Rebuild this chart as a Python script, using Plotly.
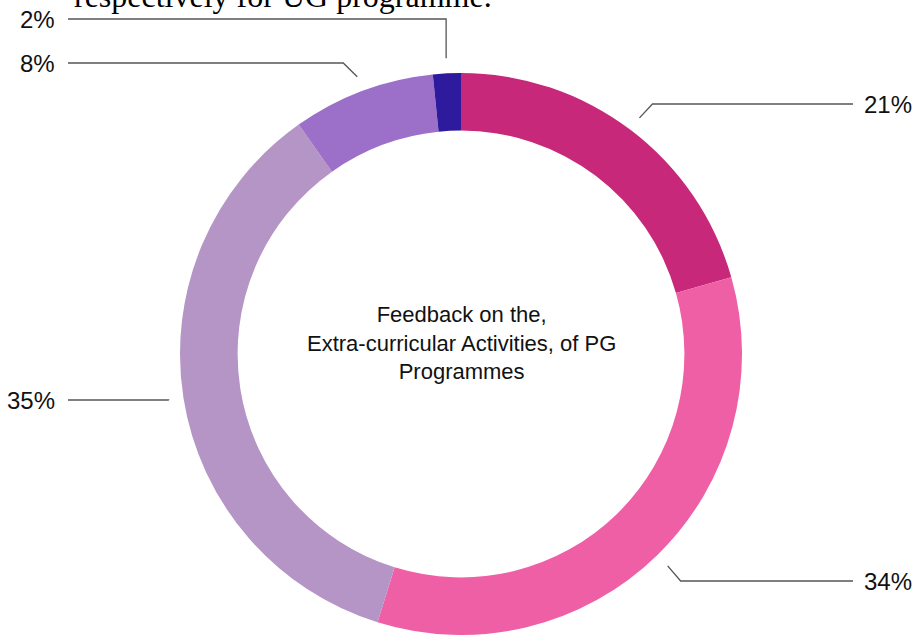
import math
import plotly.graph_objects as go

# ---- data ----
categories = ["Excellent", "Very Good", "Good", "Average", "Poor"]
values = [20.6, 34.2, 35.4, 8.2, 1.6]
colors = ["#C8287A", "#EE5FA6", "#B594C6", "#9C70C9", "#2E1A9C"]
center_title = "Feedback on the,<br>Extra-curricular Activities, of PG<br>Programmes"
top_text = "respectively for UG programme."

# ---- layout helpers (pixel geometry) ----
W, H = 914, 635
CX, CY, R = 461, 354, 281
HOLE = 0.795
LEADER_R = 296
label_y = [104, 581, 400, 63, 19]
elbow_dx = [13, 13, 0, 14, 0]
LEFT_END, RIGHT_END = 68, 853

fig = go.Figure()
fig.add_trace(go.Pie(
    labels=categories, values=values, sort=False, direction="clockwise",
    rotation=0, hole=HOLE, textinfo="none", hoverinfo="label+percent",
    marker=dict(colors=colors, line=dict(width=0)),
    domain=dict(x=[(CX - R) / W, (CX + R) / W], y=[(H - CY - R) / H, (H - CY + R) / H]),
    showlegend=False,
))

total = sum(values)
cum = 0.0
annotations = []
for i, v in enumerate(values):
    mid = (cum + v / 2) / total * 2 * math.pi
    cum += v
    sx = CX + LEADER_R * math.sin(mid)
    sy = CY - LEADER_R * math.cos(mid)
    ly = label_y[i]
    right = math.sin(mid) > 0
    ex = sx + elbow_dx[i] if right else sx - elbow_dx[i]
    end = RIGHT_END if right else LEFT_END
    fig.add_trace(go.Scatter(
        x=[sx, ex, end], y=[sy, ly, ly], mode="lines",
        line=dict(color="#555555", width=1.3), hoverinfo="skip", showlegend=False,
    ))
    annotations.append(dict(
        x=end + (9 if right else -11), y=ly, xref="x", yref="y",
        text=f"{round(v / total * 100)}%", showarrow=False,
        xanchor="left" if right else "right", yanchor="middle",
        font=dict(family="Liberation Sans, Arial, sans-serif", size=24, color="#111111"),
    ))

annotations.append(dict(
    x=CX, y=343, xref="x", yref="y", text=center_title, showarrow=False,
    xanchor="center", yanchor="middle", align="center",
    font=dict(family="Liberation Sans, Arial, sans-serif", size=22, color="#111111"),
))
annotations.append(dict(
    x=72 / W, y=1, xref="paper", yref="paper", text=top_text, showarrow=False,
    xanchor="left", yanchor="top", yshift=24,
    font=dict(family="Liberation Serif, Times New Roman, serif", size=32, color="#000000"),
))

fig.update_layout(
    width=W, height=H, margin=dict(l=0, r=0, t=0, b=0),
    paper_bgcolor="white", plot_bgcolor="rgba(0,0,0,0)",
    xaxis=dict(range=[0, W], visible=False, fixedrange=True),
    yaxis=dict(range=[H, 0], visible=False, fixedrange=True),
    annotations=annotations,
)
fig.write_html(
    "out.html",
    config={"displayModeBar": False},
    post_script="document.body.style.margin='0';document.body.style.overflow='hidden';",
)
